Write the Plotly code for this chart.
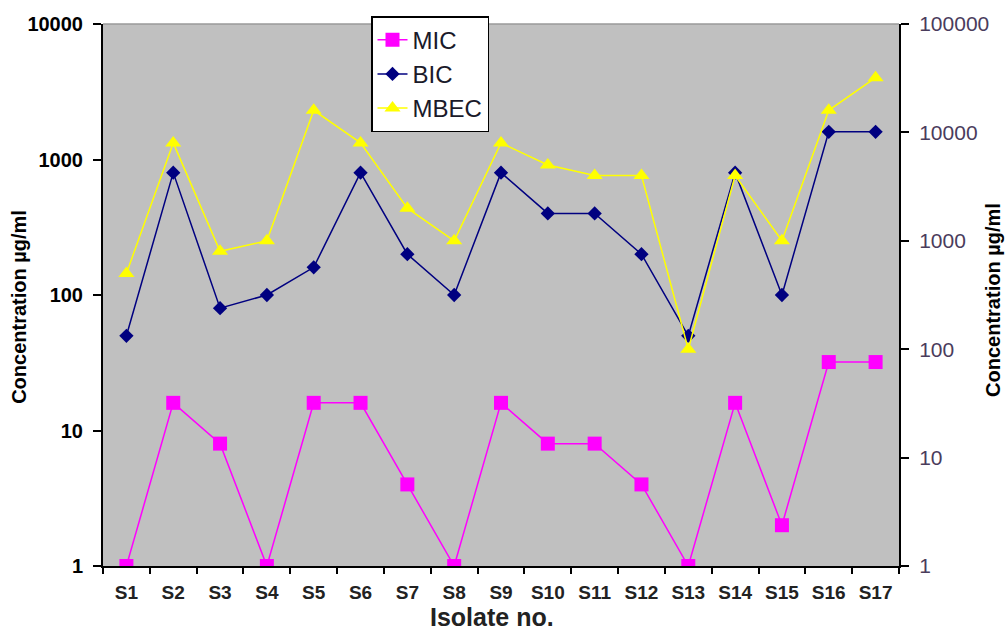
import plotly.graph_objects as go

isolates = ["S1", "S2", "S3", "S4", "S5", "S6", "S7", "S8", "S9", "S10",
            "S11", "S12", "S13", "S14", "S15", "S16", "S17"]
mic = [1, 16, 8, 1, 16, 16, 4, 1, 16, 8, 8, 4, 1, 16, 2, 32, 32]
bic = [50, 800, 80, 100, 160, 800, 200, 100, 800, 400, 400, 200, 50, 800, 100, 1600, 1600]
mbec = [500, 8000, 800, 1000, 16000, 8000, 2000, 1000, 8000, 5000, 4000, 4000, 100, 4000, 1000, 16000, 32000]

left_ticks = [1, 10, 100, 1000, 10000]
right_ticks = [1, 10, 100, 1000, 10000, 100000]

FONT = "Liberation Sans, Arial, sans-serif"

fig = go.Figure()
fig.add_trace(go.Scatter(
    x=isolates, y=mic, name="MIC", mode="lines+markers", legendgroup="a",
    line=dict(color="#FF00FF", width=1.5),
    marker=dict(symbol="square", size=14, color="#FF00FF"),
    yaxis="y"))
fig.add_trace(go.Scatter(
    x=isolates, y=bic, name="BIC", mode="lines+markers", legendgroup="b",
    line=dict(color="#000080", width=1.5),
    marker=dict(symbol="diamond", size=11, color="#000080"),
    yaxis="y"))
fig.add_trace(go.Scatter(
    x=isolates, y=mbec, name="MBEC", mode="lines+markers", legendgroup="c",
    line=dict(color="#FFFF00", width=1.5),
    marker=dict(symbol="triangle-up", size=14, color="#FFFF00"),
    yaxis="y2"))

fig.update_layout(
    width=1006, height=636,
    margin=dict(l=103, r=107, t=16, b=70),
    paper_bgcolor="white",
    plot_bgcolor="#C0C0C0",
    font=dict(family=FONT, color="black"),
    showlegend=True,
    legend=dict(
        x=(371 - 103) / 796, y=1 + 8 / 550, xanchor="left", yanchor="top",
        bgcolor="white", bordercolor="black", borderwidth=1.5,
        font=dict(size=24, family=FONT, color="#1a1a2a"),
        tracegroupgap=4, traceorder="normal",
        entrywidth=110, entrywidthmode="pixels",
    ),
    xaxis=dict(
        type="category", tickson="boundaries", ticks="outside", ticklen=6,
        tickwidth=1.5, tickcolor="black",
        showline=True, linecolor="black", linewidth=2,
        showgrid=False, zeroline=False,
        tickfont=dict(size=19, family=FONT, color="#222222", weight="bold"),
        ticklabelstandoff=8,
        range=[-0.5, 16.5],
    ),
    yaxis=dict(
        type="log", range=[0, 4], tickvals=left_ticks,
        ticktext=[str(v) for v in left_ticks],
        ticks="outside", ticklen=8, tickwidth=1.5, tickcolor="black",
        showline=True, linecolor="black", linewidth=2,
        showgrid=False, zeroline=False,
        tickfont=dict(size=20, family=FONT, color="black", weight="bold"),
        ticklabelstandoff=6,
    ),
    yaxis2=dict(
        type="log", range=[0, 5], tickvals=right_ticks,
        ticktext=[str(v) for v in right_ticks],
        overlaying="y", side="right",
        ticks="outside", ticklen=8, tickwidth=1.5, tickcolor="black",
        showline=True, linecolor="black", linewidth=2,
        showgrid=False, zeroline=False,
        tickfont=dict(size=21, family=FONT, color="#4a3c5c"),
        ticklabelstandoff=6,
    ),
    shapes=[dict(type="line", xref="paper", yref="paper", x0=0, x1=1, y0=1, y1=1,
                 line=dict(color="#9a9a9a", width=1.5))],
    annotations=[
        dict(text="Concentration µg/ml", xref="paper", yref="paper",
             x=(19 - 103) / 796, y=(566 - 303) / 550,
             xanchor="center", yanchor="middle", textangle=-90, showarrow=False,
             font=dict(size=20, family=FONT, color="black", weight="bold")),
        dict(text="Concentration µg/ml", xref="paper", yref="paper",
             x=(993 - 103) / 796, y=(566 - 296) / 550,
             xanchor="center", yanchor="middle", textangle=-90, showarrow=False,
             font=dict(size=20, family=FONT, color="black", weight="bold")),
        dict(text="Isolate no.", xref="paper", yref="paper",
             x=(492 - 103) / 796, y=(566 - 618) / 550,
             xanchor="center", yanchor="middle", showarrow=False,
             font=dict(size=25, family=FONT, color="#222222", weight="bold")),
    ],
)

post = ("document.body.style.margin='0';"
        "var d=document.getElementById('{plot_id}');"
        "d.style.position='absolute';d.style.left='0px';d.style.top='0px';")
fig.write_html("out.html", post_script=post, config={"displayModeBar": False})
